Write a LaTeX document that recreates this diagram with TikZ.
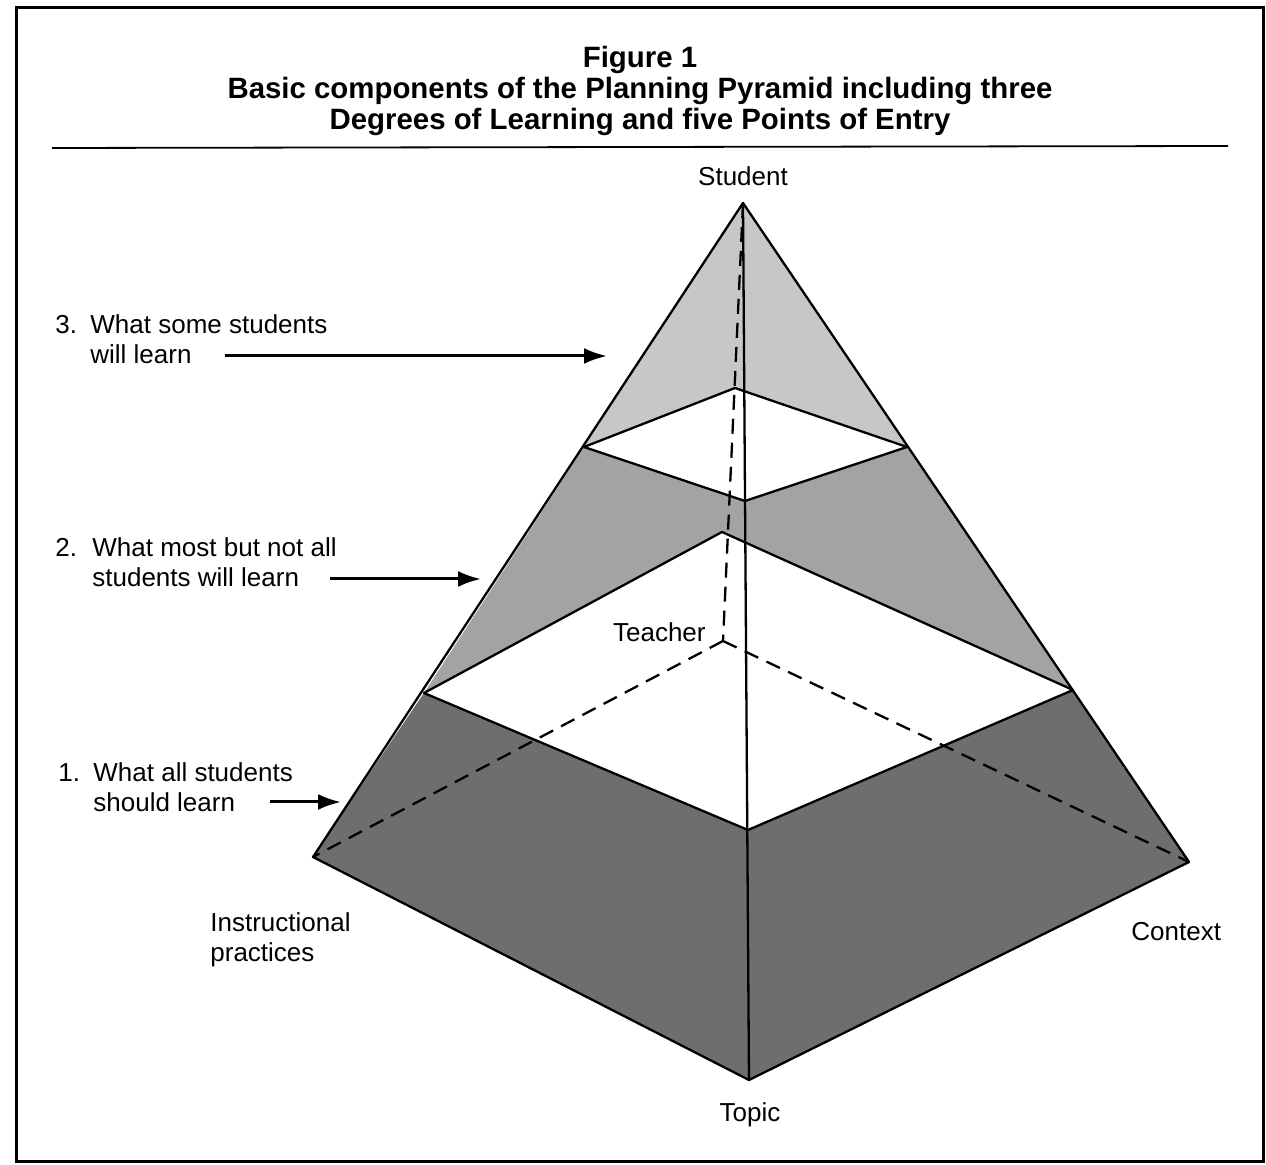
\documentclass[tikz,border=0pt]{standalone}
\usepackage{fontspec}
\setmainfont{Liberation Sans}
\usetikzlibrary{arrows.meta}
\definecolor{lightband}{gray}{0.78}
\definecolor{midband}{gray}{0.64}
\definecolor{darkband}{gray}{0.43}
\begin{document}
\begin{tikzpicture}[x=0.5pt,y=-0.5pt,
  edge/.style={line width=1.15pt,line join=round},
  hidden/.style={line width=1.15pt,dash pattern=on 7.5pt off 4.5pt},
  lbl/.style={font=\fontsize{13}{15}\selectfont,inner sep=0pt},
  ttl/.style={font=\fontsize{14.7}{15.5}\selectfont\bfseries,inner sep=0pt,align=center},
  ptr/.style={line width=1.5pt,-{Latex[length=11.5pt,width=8pt]}}]
\useasboundingbox (0,0) rectangle (1266,1165);
% frame
\draw[line width=1.5pt] (16,8) rectangle (1263,1162);
% title
\node[ttl,anchor=north] (title) at (640,46) {Figure 1\\Basic components of the Planning Pyramid including three\\Degrees of Learning and five Points of Entry};
\coordinate (ruleL) at (52,148);
\coordinate (ruleR) at (1228,146);
\draw[line width=0.9pt] (ruleL) -- (ruleR);
% pyramid vertices
\coordinate (A) at (743,203);
\coordinate (L) at (313,857);
\coordinate (F) at (749,1080);
\coordinate (R) at (1189,862);
\coordinate (T) at (723,641);
% upper section
\coordinate (UL) at (584,447);
\coordinate (UB) at (735,388);
\coordinate (UR) at (907,447);
\coordinate (UF) at (745,501);
% lower section
\coordinate (ML) at (424,693);
\coordinate (MB) at (722,532);
\coordinate (MR) at (1073,690);
\coordinate (MF) at (748,830);
% fills
\fill[lightband] (A) -- (UL) -- (UB) -- (UR) -- cycle;
\fill[white] (UL) -- (UB) -- (UR) -- (UF) -- cycle;
\fill[midband] (UL) -- (UF) -- (UR) -- (MR) -- (MB) -- (ML) -- cycle;
\fill[white] (ML) -- (MB) -- (MR) -- (MF) -- cycle;
\fill[darkband] (ML) -- (MF) -- (MR) -- (R) -- (F) -- (L) -- cycle;
% hidden edges
\draw[hidden] (A) -- (T);
\draw[hidden] (T) -- (L);
\draw[hidden] (T) -- (R);
% visible edges
\draw[edge] (A) -- (L) -- (F) -- (R) -- cycle;
\draw[edge] (A) -- (F);
\draw[edge] (UL) -- (UB) -- (UR) -- (UF) -- cycle;
\draw[edge] (ML) -- (MB) -- (MR) -- (MF) -- cycle;
% vertex labels
\node[lbl,anchor=base] (student) at (743,186) {Student};
\node[lbl,anchor=base east] (teacher) at (706,642) {Teacher};
\node[lbl,anchor=north west,align=left] (instr) at (210,912) {Instructional\\practices};
\node[lbl,anchor=base west] (context) at (1131,941) {Context};
\node[lbl,anchor=base] (topic) at (750,1122) {Topic};
% degree labels
\node[lbl,anchor=north west,align=left] (deg3) at (55,314.5) {\makebox[17.5pt][l]{3.}What some students\\\hspace*{17.5pt}will learn};
\node[lbl,anchor=north west,align=left] (deg2) at (55,537.5) {\makebox[18.5pt][l]{2.}What most but not all\\\hspace*{18.5pt}students will learn};
\node[lbl,anchor=north west,align=left] (deg1) at (58,762.5) {\makebox[17.5pt][l]{1.}What all students\\\hspace*{17.5pt}should learn};
% arrows
\coordinate (a3s) at (225,356);
\coordinate (a3e) at (607,356);
\coordinate (a2s) at (330,579);
\coordinate (a2e) at (481,579);
\coordinate (a1s) at (270,802);
\coordinate (a1e) at (341,802);
\draw[ptr] (a3s) -- (a3e);
\draw[ptr] (a2s) -- (a2e);
\draw[ptr] (a1s) -- (a1e);
\end{tikzpicture}
\end{document}
